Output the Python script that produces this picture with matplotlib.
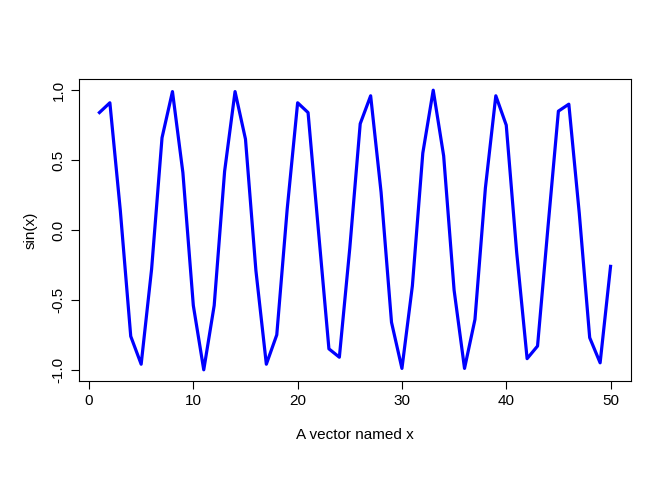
import matplotlib
matplotlib.use("Agg")
import matplotlib.pyplot as plt

# values
x = list(range(1, 51))
y = [0.84, 0.91, 0.14, -0.76, -0.96, -0.28, 0.66, 0.99, 0.41, -0.54,
     -1.00, -0.54, 0.42, 0.99, 0.65, -0.29, -0.96, -0.75, 0.15, 0.91,
     0.84, -0.01, -0.85, -0.91, -0.13, 0.76, 0.96, 0.27, -0.66, -0.99,
     -0.40, 0.55, 1.00, 0.53, -0.43, -0.99, -0.64, 0.30, 0.96, 0.75,
     -0.16, -0.92, -0.83, 0.02, 0.85, 0.90, 0.12, -0.77, -0.95, -0.26]
xticks = [0, 10, 20, 30, 40, 50]
yticks = [-1.0, -0.5, 0.0, 0.5, 1.0]

plt.rcParams['font.family'] = ['Liberation Sans', 'DejaVu Sans']
fig = plt.figure(figsize=(6.72, 4.8), dpi=100)
ax = fig.add_axes([79/672, 1-381/480, (631-79)/672, (381-79)/480])
ax.plot(x, y, color="blue", lw=2.3)
ax.set_xlim(1 - 0.04*49, 50 + 0.04*49)
ax.set_ylim(-1.08, 1.08)
ax.set_xticks(xticks)
ax.set_yticks(yticks)
ax.set_yticklabels([f"{v:.1f}" for v in yticks], rotation=90, va="center")
ax.tick_params(direction="out", length=6, labelsize=11)
ax.set_xlabel("A vector named x", fontsize=11, labelpad=14)
ax.set_ylabel("sin(x)", fontsize=11, labelpad=10)
for s in ax.spines.values():
    s.set_linewidth(0.8)
fig.savefig("out.png", dpi=100)
